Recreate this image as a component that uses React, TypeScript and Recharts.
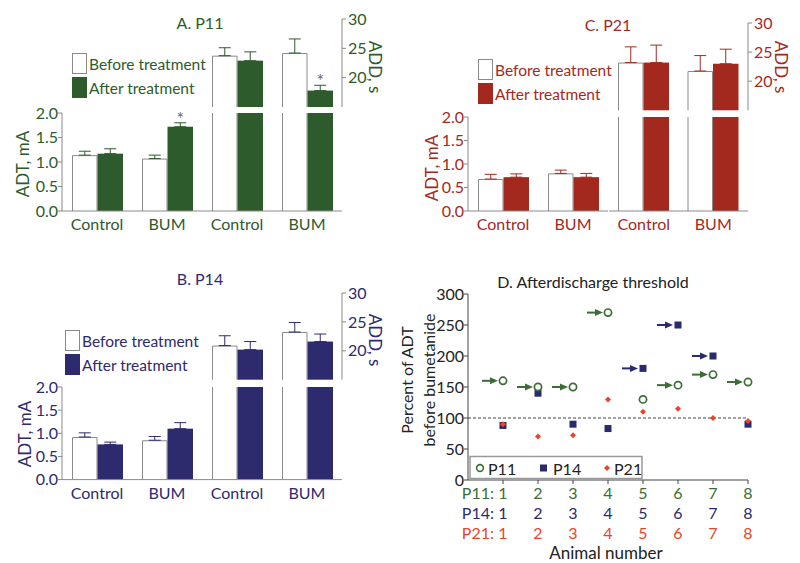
import React from "react";
import {
  Bar,
  BarChart,
  ErrorBar,
  ReferenceLine,
  Scatter,
  ScatterChart,
  XAxis,
  YAxis,
} from "recharts";

const FONT = "Lato, 'Open Sans', sans-serif";
const AXIS_GREY = "#8a8a8a";

const groups = ["Control", "BUM"];

// A. P11
const p11AdtBefore = [1.14, 1.07];
const p11AdtBeforeErr = [0.08, 0.07];
const p11AdtAfter = [1.17, 1.72];
const p11AdtAfterErr = [0.1, 0.08];
const p11AdtSig = [false, true];
const p11AddBefore = [23.75, 24.2];
const p11AddBeforeErr = [1.35, 2.4];
const p11AddAfter = [22.9, 17.8];
const p11AddAfterErr = [1.5, 0.9];
const p11AddSig = [false, true];

// B. P14
const p14AdtBefore = [0.92, 0.85];
const p14AdtBeforeErr = [0.09, 0.08];
const p14AdtAfter = [0.76, 1.1];
const p14AdtAfterErr = [0.05, 0.13];
const p14AddBefore = [20.9, 23.25];
const p14AddBeforeErr = [1.7, 1.65];
const p14AddAfter = [20.2, 21.6];
const p14AddAfterErr = [1.4, 1.3];

// C. P21
const p21AdtBefore = [0.68, 0.8];
const p21AdtBeforeErr = [0.1, 0.07];
const p21AdtAfter = [0.72, 0.72];
const p21AdtAfterErr = [0.07, 0.08];
const p21AddBefore = [23.2, 21.75];
const p21AddBeforeErr = [2.7, 2.65];
const p21AddAfter = [23.2, 23.0];
const p21AddAfterErr = [3.0, 2.5];

const noSig = [false, false];

// D. percent of ADT before bumetanide, per animal
const animals = [1, 2, 3, 4, 5, 6, 7, 8];
const p11Pct = [160, 150, 150, 270, 130, 153, 170, 158];
const p14Pct = [88, 140, 90, 83, 180, 250, 200, 90];
const p21Pct = [90, 70, 72, 130, 110, 115, 100, 95];
const p11Arrow = [true, true, true, true, false, true, true, true];
const p14Arrow = [false, false, false, false, true, true, true, false];

const adtTicks = [0, 0.5, 1, 1.5, 2];
const addTicks = [15, 20, 25, 30];
const pctTicks = [0, 50, 100, 150, 200, 250, 300];

function rows(before: number[], beforeErr: number[], after: number[], afterErr: number[], sig: boolean[]) {
  return groups.map((g, i) => ({
    name: g,
    before: before[i],
    after: after[i],
    beforeErr: [0, beforeErr[i]],
    afterErr: [0, afterErr[i]],
    sig: sig[i],
  }));
}

function barShape(color: string, filled: boolean, base: number, showSig: boolean) {
  return (p: any) => {
    const { x, y, width, height, payload } = p;
    let star = null;
    if (showSig && filled && payload.sig) {
      const unit = height / (payload.after - base);
      const errTop = y - payload.afterErr[1] * unit;
      star = (
        <text x={x + width / 2} y={errTop + 2} textAnchor="middle" fontSize={18} fill="#666" fontFamily={FONT}>
          *
        </text>
      );
    }
    return (
      <g>
        <rect x={x} y={y} width={width} height={height} fill={filled ? color : "#fff"} />
        {!filled && (
          <path
            d={`M${x + 0.5},${y + height} V${y + 0.5} H${x + width - 0.5} V${y + height}`}
            fill="none"
            stroke={AXIS_GREY}
            strokeWidth={1}
          />
        )}
        {star}
      </g>
    );
  };
}

type Rect = { x: number; y: number; w: number; h: number };

type PanelProps = {
  color: string;
  title: string;
  titleX: number;
  titleY: number;
  adtData: any[];
  addData: any[];
  adt: Rect;
  top: Rect;
  bottom: Rect;
  legendX: number;
  legendY: number;
  adtLabel: [number, number];
  addLabel: [number, number];
};

function BarPanel(props: PanelProps) {
  const { color, adt, top, bottom } = props;
  const tickStyle = { fill: color, fontSize: 16, fontFamily: FONT };
  // the lower half of the broken ADD axis gets no error bars and no asterisk
  const bars = (base: number, upper: boolean) => [
    <Bar key="b" dataKey="before" shape={barShape(color, false, base, upper)} isAnimationActive={false}>
      {upper && <ErrorBar dataKey="beforeErr" width={6} stroke={color} strokeWidth={1} />}
    </Bar>,
    <Bar key="a" dataKey="after" shape={barShape(color, true, base, upper)} isAnimationActive={false}>
      {upper && <ErrorBar dataKey="afterErr" width={6} stroke={color} strokeWidth={1} />}
    </Bar>,
  ];
  return (
    <>
      {/* ADT, left chart */}
      <div style={{ position: "absolute", left: adt.x - 50, top: adt.y - 10 }}>
        <BarChart
          width={adt.w + 55}
          height={adt.h + 40}
          data={props.adtData}
          margin={{ top: 10, right: 5, left: 0, bottom: 0 }}
          barGap={0}
          barSize={25.5}
        >
          <XAxis
            dataKey="name"
            height={30}
            axisLine={{ stroke: AXIS_GREY }}
            tickLine={false}
            tickSize={0}
            tickMargin={8}
            tick={tickStyle}
          />
          <YAxis
            domain={[0, 2]}
            ticks={adtTicks}
            width={50}
            tickFormatter={(v: number) => v.toFixed(1)}
            axisLine={{ stroke: AXIS_GREY }}
            tickLine={{ stroke: AXIS_GREY }}
            tickSize={4}
            tickMargin={0}
            tick={tickStyle}
          />
          {bars(0, true)}
        </BarChart>
      </div>
      {/* ADD, upper part 15-30 */}
      <div style={{ position: "absolute", left: top.x - 5, top: top.y - 10 }}>
        <BarChart
          width={top.w + 45}
          height={top.h + 12}
          data={props.addData}
          margin={{ top: 10, right: 0, left: 5, bottom: 2 }}
          barGap={0}
          barSize={25.5}
        >
          <XAxis dataKey="name" hide />
          <YAxis
            orientation="right"
            domain={[15, 30]}
            ticks={addTicks}
            width={40}
            axisLine={{ stroke: AXIS_GREY }}
            tickLine={{ stroke: AXIS_GREY }}
            tickSize={4}
            tickMargin={2}
            tick={tickStyle}
          />
          {bars(15, true)}
        </BarChart>
      </div>
      {/* ADD, lower part 0-15 (broken axis) */}
      <div style={{ position: "absolute", left: bottom.x - 5, top: bottom.y - 10 }}>
        <BarChart
          width={bottom.w + 10}
          height={bottom.h + 40}
          data={props.addData}
          margin={{ top: 10, right: 5, left: 5, bottom: 0 }}
          barGap={0}
          barSize={25.5}
        >
          <XAxis
            dataKey="name"
            height={30}
            axisLine={{ stroke: AXIS_GREY }}
            tickLine={false}
            tickSize={0}
            tickMargin={8}
            tick={tickStyle}
          />
          <YAxis
            domain={[0, 15]}
            allowDataOverflow
            width={0}
            tick={false}
            tickLine={false}
            axisLine={{ stroke: AXIS_GREY }}
          />
          {bars(0, false)}
        </BarChart>
      </div>
      <svg
        width={800}
        height={563}
        style={{ position: "absolute", left: 0, top: 0, pointerEvents: "none" }}
        fontFamily={FONT}
      >
        <text x={props.titleX} y={props.titleY} textAnchor="middle" dominantBaseline="central" fontSize={16} fill={color}>
          {props.title}
        </text>
        <rect x={props.legendX + 0.5} y={props.legendY + 0.5} width={14} height={20} fill="#fff" stroke={AXIS_GREY} />
        <rect x={props.legendX} y={props.legendY + 24} width={15} height={21} fill={color} />
        <text x={props.legendX + 17} y={props.legendY + 11} dominantBaseline="central" fontSize={15.5} fill={color}>
          Before treatment
        </text>
        <text x={props.legendX + 17} y={props.legendY + 35} dominantBaseline="central" fontSize={15.5} fill={color}>
          After treatment
        </text>
        <text
          transform={`translate(${props.adtLabel[0]},${props.adtLabel[1]}) rotate(-90)`}
          textAnchor="middle"
          dominantBaseline="central"
          fontSize={17}
          fill={color}
        >
          ADT, mA
        </text>
        <text
          transform={`translate(${props.addLabel[0]},${props.addLabel[1]}) rotate(90)`}
          textAnchor="middle"
          dominantBaseline="central"
          fontSize={17}
          fill={color}
        >
          ADD, s
        </text>
      </svg>
    </>
  );
}

const D_GREEN = "#3c6d36";
const D_NAVY = "#2b2a6c";
const D_RED = "#e8452b";

const pts = (vals: number[]) => animals.map((a, i) => ({ x: a, y: vals[i] }));
const arrowPts = (vals: number[], flags: boolean[]) =>
  animals.map((a, i) => ({ x: a, y: vals[i] })).filter((_, i) => flags[i]);

const arrowShape = (color: string) => (p: any) => {
  const { cx, cy } = p;
  return (
    <g>
      <line x1={cx - 21} y1={cy} x2={cx - 11} y2={cy} stroke={color} strokeWidth={2} />
      <path d={`M${cx - 13},${cy - 3.5} L${cx - 5},${cy} L${cx - 13},${cy + 3.5} Z`} fill={color} />
    </g>
  );
};
const circleShape = (p: any) => (
  <circle cx={p.cx} cy={p.cy} r={3.6} fill="#fff" stroke={D_GREEN} strokeWidth={1.7} />
);
const squareShape = (p: any) => <rect x={p.cx - 3.5} y={p.cy - 3.5} width={7} height={7} fill={D_NAVY} />;
const diamondShape = (p: any) => (
  <path d={`M${p.cx},${p.cy - 3} L${p.cx + 3},${p.cy} L${p.cx},${p.cy + 3} L${p.cx - 3},${p.cy} Z`} fill={D_RED} />
);

function AnimalTick(p: any) {
  const { x, y, payload } = p;
  const rowsD = [
    { label: "P11:", color: D_GREEN },
    { label: "P14:", color: D_NAVY },
    { label: "P21:", color: D_RED },
  ];
  return (
    <g fontFamily={FONT} fontSize={16}>
      {rowsD.map((r, i) => (
        <g key={r.label}>
          {payload.value === 1 && (
            <text x={x - 9} y={y + 13 + i * 20} textAnchor="end" fill={r.color}>
              {r.label}
            </text>
          )}
          <text x={x} y={y + 13 + i * 20} textAnchor="middle" fill={r.color}>
            {payload.value}
          </text>
        </g>
      ))}
    </g>
  );
}

function ThresholdPanel() {
  const plot = { x: 468.3, y: 294, w: 280, h: 186 };
  return (
    <>
      <div style={{ position: "absolute", left: plot.x - 50, top: plot.y - 12 }}>
        <ScatterChart
          width={plot.w + 62}
          height={plot.h + 12 + 62}
          margin={{ top: 12, right: 12, left: 0, bottom: 0 }}
        >
          <XAxis
            type="number"
            dataKey="x"
            domain={[0, 8]}
            ticks={animals}
            height={62}
            axisLine={{ stroke: "#444" }}
            tickLine={{ stroke: "#444" }}
            tickSize={4}
            tick={<AnimalTick />}
          />
          <YAxis
            type="number"
            dataKey="y"
            domain={[0, 300]}
            ticks={pctTicks}
            width={50}
            axisLine={{ stroke: "#444" }}
            tickLine={{ stroke: "#444" }}
            tickSize={4}
            tickMargin={0}
            tick={{ fill: "#222", fontSize: 16, fontFamily: FONT }}
          />
          <ReferenceLine y={100} stroke="#444" strokeDasharray="3 2" />
          <Scatter data={arrowPts(p11Pct, p11Arrow)} shape={arrowShape(D_GREEN)} isAnimationActive={false} />
          <Scatter data={arrowPts(p14Pct, p14Arrow)} shape={arrowShape(D_NAVY)} isAnimationActive={false} />
          <Scatter data={pts(p14Pct)} shape={squareShape} isAnimationActive={false} />
          <Scatter data={pts(p11Pct)} shape={circleShape} isAnimationActive={false} />
          <Scatter data={pts(p21Pct)} shape={diamondShape} isAnimationActive={false} />
        </ScatterChart>
      </div>
      <svg
        width={800}
        height={563}
        style={{ position: "absolute", left: 0, top: 0, pointerEvents: "none" }}
        fontFamily={FONT}
      >
        <text x={593} y={281} textAnchor="middle" dominantBaseline="central" fontSize={16} fill="#222">
          D. Afterdischarge threshold
        </text>
        <text transform="translate(406,380) rotate(-90)" textAnchor="middle" dominantBaseline="central" fontSize={16} fill="#222">
          Percent of ADT
        </text>
        <text transform="translate(428,380) rotate(-90)" textAnchor="middle" dominantBaseline="central" fontSize={16} fill="#222">
          before bumetanide
        </text>
        <text x={606} y={552} textAnchor="middle" dominantBaseline="central" fontSize={17} fill="#222">
          Animal number
        </text>
        <rect x={470} y={456.5} width={172} height={22} fill="#fff" stroke="#999" strokeWidth={1.5} />
        <circle cx={480} cy={468} r={3.4} fill="#fff" stroke={D_GREEN} strokeWidth={1.6} />
        <text x={488} y={468} dominantBaseline="central" fontSize={16} fill="#222">P11</text>
        <rect x={540} y={464.5} width={7} height={7} fill={D_NAVY} />
        <text x={553} y={468} dominantBaseline="central" fontSize={16} fill="#222">P14</text>
        <path d="M607,465 L610,468 L607,471 L604,468 Z" fill={D_RED} />
        <text x={614} y={468} dominantBaseline="central" fontSize={16} fill="#222">P21</text>
      </svg>
    </>
  );
}

const GREEN = "#2e5b2b";
const NAVY = "#2d2a6e";
const RED = "#a3291f";

export default function App() {
  return (
    <div
      style={{
        position: "absolute",
        left: 0,
        top: 0,
        width: 800,
        height: 563,
        background: "#fff",
        overflow: "hidden",
        fontFamily: FONT,
      }}
    >
      <BarPanel
        color={GREEN}
        title="A. P11"
        titleX={200}
        titleY={22}
        adtData={rows(p11AdtBefore, p11AdtBeforeErr, p11AdtAfter, p11AdtAfterErr, p11AdtSig)}
        addData={rows(p11AddBefore, p11AddBeforeErr, p11AddAfter, p11AddAfterErr, p11AddSig)}
        adt={{ x: 62, y: 113, w: 140, h: 98 }}
        top={{ x: 202, y: 19.3, w: 140, h: 88 }}
        bottom={{ x: 202, y: 113, w: 140, h: 98 }}
        legendX={72}
        legendY={53}
        adtLabel={[22, 164]}
        addLabel={[375, 67]}
      />
      <BarPanel
        color={NAVY}
        title="B. P14"
        titleX={200}
        titleY={278}
        adtData={rows(p14AdtBefore, p14AdtBeforeErr, p14AdtAfter, p14AdtAfterErr, noSig)}
        addData={rows(p14AddBefore, p14AddBeforeErr, p14AddAfter, p14AddAfterErr, noSig)}
        adt={{ x: 62, y: 386.7, w: 140, h: 92.6 }}
        top={{ x: 202, y: 293.3, w: 140, h: 86.7 }}
        bottom={{ x: 202, y: 386.7, w: 140, h: 92.6 }}
        legendX={65}
        legendY={330}
        adtLabel={[24, 434]}
        addLabel={[375, 340]}
      />
      <BarPanel
        color={RED}
        title="C. P21"
        titleX={608}
        titleY={24}
        adtData={rows(p21AdtBefore, p21AdtBeforeErr, p21AdtAfter, p21AdtAfterErr, noSig)}
        addData={rows(p21AddBefore, p21AddBeforeErr, p21AddAfter, p21AddAfterErr, noSig)}
        adt={{ x: 468, y: 117, w: 140, h: 94 }}
        top={{ x: 609, y: 22.7, w: 139, h: 87.3 }}
        bottom={{ x: 609, y: 117, w: 139, h: 94 }}
        legendX={478}
        legendY={59}
        adtLabel={[431, 168]}
        addLabel={[781, 67]}
      />
      <ThresholdPanel />
    </div>
  );
}
